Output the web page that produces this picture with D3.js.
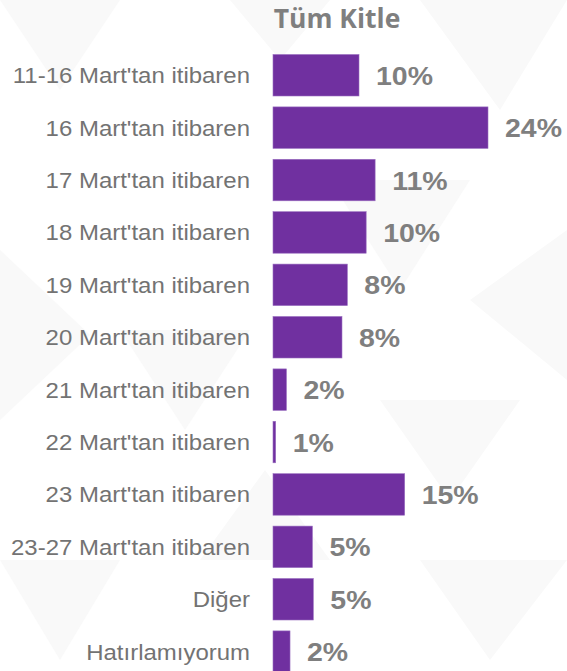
<!DOCTYPE html>
<html>
  <head>
    <meta charset="utf-8">
    <title>Tüm Kitle</title>
    <script src="https://d3js.org/d3.v7.min.js"></script>
  </head>
  <body>
    <svg class="chart" width="567" height="671"></svg>
    <script>
// Data
var categories = ["11-16 Mart'tan itibaren", "16 Mart'tan itibaren", "17 Mart'tan itibaren",
  "18 Mart'tan itibaren", "19 Mart'tan itibaren", "20 Mart'tan itibaren",
  "21 Mart'tan itibaren", "22 Mart'tan itibaren", "23 Mart'tan itibaren",
  "23-27 Mart'tan itibaren", "Diğer", "Hatırlamıyorum"];
var values = [9.6, 24.0, 11.4, 10.4, 8.3, 7.7, 1.5, 0.3, 14.7, 4.4, 4.5, 1.9];
var valueLabels = ["10%", "24%", "11%", "10%", "8%", "8%", "2%", "1%", "15%", "5%", "5%", "2%"];

var svg = d3.select("svg"),
    width = +svg.attr("width"),
    height = +svg.attr("height");

// faint triangle background pattern
var bg = svg.append("g").attr("class", "bg");
bg.append("rect").attr("width", width).attr("height", height).attr("fill", "#ffffff");
var tris = [
  [[0, 0], [120, 0], [60, 90]],
  [[230, 0], [330, 0], [280, 60]],
  [[420, 0], [567, 0], [500, 110]],
  [[0, 250], [0, 420], [90, 335]],
  [[120, 330], [250, 330], [185, 430]],
  [[330, 180], [470, 180], [400, 290]],
  [[470, 300], [567, 230], [567, 380]],
  [[0, 560], [120, 560], [60, 660]],
  [[200, 560], [330, 560], [265, 470]],
  [[420, 560], [567, 560], [490, 660]],
  [[380, 400], [520, 400], [450, 500]]
];
bg.selectAll("polygon").data(tris).enter().append("polygon")
    .attr("points", d => d.map(p => p.join(",")).join(" "))
    .attr("fill", "#f9f9f9");

// Scales
var x = d3.scaleLinear().domain([0, 24]).range([273, 488]);
var y = d3.scaleBand().domain(categories).range([54.5, 672.4]).paddingInner(0.208).paddingOuter(0);

// Title
svg.append("text")
    .attr("x", 337)
    .attr("y", 28)
    .attr("text-anchor", "middle")
    .attr("class", "title")
    .text("Tüm Kitle");

// Bars
svg.append("g")
    .selectAll("rect")
    .data(values)
    .enter().append("rect")
      .attr("class", "bar")
      .attr("x", x(0))
      .attr("y", (d, i) => y(categories[i]))
      .attr("width", d => x(d) - x(0))
      .attr("height", y.bandwidth());

// Category labels
svg.append("g")
    .selectAll("text")
    .data(categories)
    .enter().append("text")
      .attr("class", "cat")
      .attr("transform", d => "translate(250," + (y(d) + y.bandwidth() / 2) + ") scale(1.075,1)")
      .attr("text-anchor", "end")
      .attr("dy", "0.36em")
      .text(d => d);

// Value labels
svg.append("g")
    .selectAll("text")
    .data(values)
    .enter().append("text")
      .attr("class", "val")
      .attr("transform", (d, i) => "translate(" + (x(d) + 17) + "," + (y(categories[i]) + y.bandwidth() / 2) + ") scale(1.075,1)")
      .attr("dy", "0.36em")
      .text((d, i) => valueLabels[i]);
</script>
    <style>
      body { margin: 0; }
      .bar { fill: #7030a0; stroke: #9a6fc0; stroke-width: 0.6; }
      .cat { font-family: "Liberation Sans", Arial, sans-serif; font-size: 22.3px; fill: #737373; }
      .val { font-family: "Liberation Sans", Arial, sans-serif; font-size: 26.5px; font-weight: bold; fill: #7f7f7f; }
      .title { font-family: "Open Sans", sans-serif; font-size: 26.5px; font-weight: bold; fill: #7f7f7f; }
    </style>
  </body>
</html>
